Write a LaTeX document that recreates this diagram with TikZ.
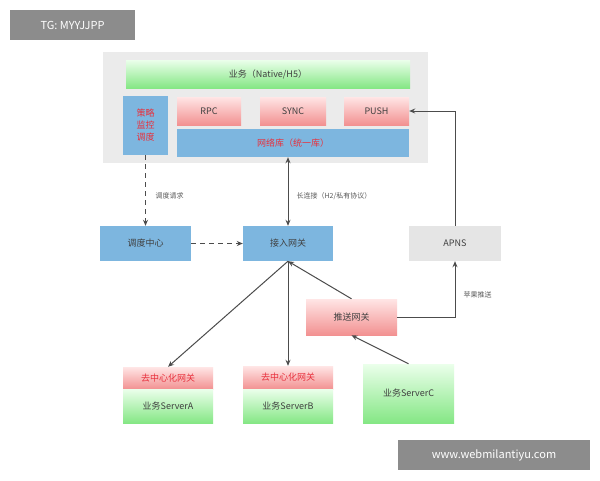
\documentclass[tikz,border=0pt]{standalone}
\usepackage{fontspec}
\setmainfont{Noto Sans CJK SC}
\usetikzlibrary{arrows.meta}
\definecolor{blu}{HTML}{7DB6DF}
\definecolor{redt}{HTML}{E8303C}
\begin{document}
\begin{tikzpicture}[x=1pt,y=-1pt,
 box/.style={draw=none,minimum width=#1,inner sep=0pt,font=\fontsize{9}{10}\selectfont,text=black!75},
 grn/.style={top color=green!8!white,bottom color=green!45!white!90!black!95},
 pnk/.style={top color=red!10!white,bottom color=red!40!white!95!black},
 bl/.style={fill=blu},
 ar/.style={draw=black!70,line width=1pt,-{Stealth[length=6pt,width=5pt]}},
 da/.style={ar,dashed,dash pattern=on 5pt off 4pt},
 lbl/.style={font=\fontsize{7}{8}\selectfont,text=black!65,anchor=west}]
\useasboundingbox (0,0) rectangle (600,480);
\fill[white] (0,0) rectangle (600,480);
\node[fill=black!45,text=white,minimum width=125,minimum height=30,inner sep=0pt,font=\fontsize{11}{12}\selectfont] (tg) at (72.5,25) {TG: MYYJJPP};
\node[fill=black!45,text=white,minimum width=192,minimum height=30,inner sep=0pt,font=\fontsize{11}{12}\selectfont] (wm) at (494,455) {www.webmilantiyu.com};
\fill[black!8] (103,52) rectangle (428,163);
\node[box=284,grn,minimum height=28] (biz) at (268,74) {业务（Native/H5）};
\node[box=45,bl,minimum height=59,text=redt,align=center,font=\fontsize{9}{12}\selectfont] (clk) at (145.5,125.5) {策略\\监控\\调度};
\node[box=64,pnk,minimum height=28] (rpc) at (209,111) {RPC};
\node[box=66,pnk,minimum height=28] (sync) at (293,111) {SYNC};
\node[box=65,pnk,minimum height=28] (push) at (376.5,111) {PUSH};
\node[box=232,bl,minimum height=28,text=redt] (net) at (293,143) {网络库（统一库）};
\node[box=91,bl,minimum height=35] (dd) at (145.5,243.5) {调度中心};
\node[box=90,bl,minimum height=35] (gw) at (288,243.5) {接入网关};
\node[box=92,fill=black!10,minimum height=35] (apns) at (455,243.5) {APNS};
\node[box=91,pnk,minimum height=36] (ps) at (351.5,317) {推送网关};
\node[box=90,pnk,minimum height=22,text=redt] (da1) at (168,378) {去中心化网关};
\node[box=90,grn,minimum height=34] (sa) at (168,406) {业务ServerA};
\node[box=90,pnk,minimum height=23,text=redt] (db1) at (288,377.5) {去中心化网关};
\node[box=90,grn,minimum height=34] (sb) at (288,406) {业务ServerB};
\node[box=91,grn,minimum height=59] (sc) at (408.5,393.5) {业务ServerC};
\draw[da] (clk.south) -- (dd.north);
\node[lbl] (l1) at (152,196) {调度请求};
\draw[da] (dd.east) -- (gw.west);
\draw[ar,{Stealth[length=6pt,width=5pt]}-{Stealth[length=6pt,width=5pt]}] (gw.north) -- (gw.north|-net.south);
\node[lbl] (l2) at (293,196) {长连接（H2/私有协议）};
\draw[ar] (gw.south) -- (da1.north);
\draw[ar] (gw.south) -- (db1.north);
\draw[ar] (ps.north) -- (gw.south);
\draw[ar] (sc.north) -- (ps.south);
\draw[ar] (ps.east) -| (apns.south);
\node[lbl] (l3) at (460,295) {苹果推送};
\draw[ar] (apns.north) |- (push.east);
\end{tikzpicture}
\end{document}
